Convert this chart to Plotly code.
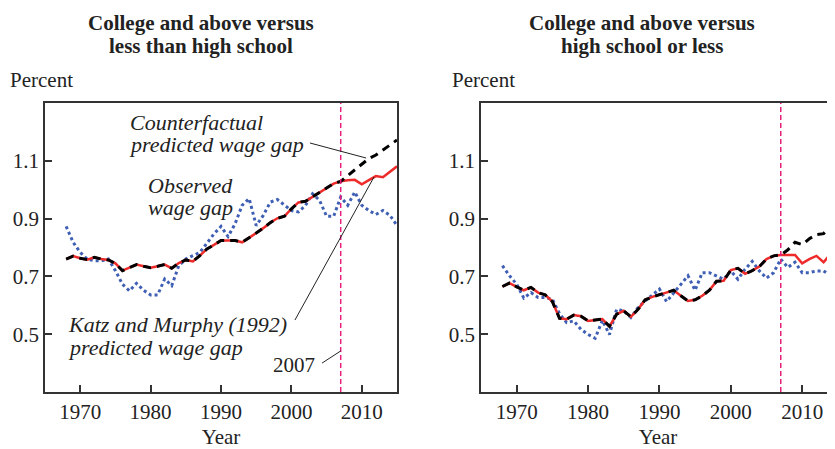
import plotly.graph_objects as go

years = list(range(1968, 2016))
cutoff_year = 2007

# left panel: college and above vs less than high school
left_observed = [0.873, 0.818, 0.783, 0.760, 0.754, 0.754, 0.760, 0.720, 0.673, 0.650,
                 0.676, 0.652, 0.636, 0.636, 0.691, 0.668, 0.737, 0.760, 0.772, 0.783,
                 0.815, 0.847, 0.873, 0.838, 0.882, 0.946, 0.969, 0.876, 0.911, 0.957,
                 0.966, 0.946, 0.928, 0.923, 0.946, 0.986, 0.963, 0.908, 0.908, 0.975,
                 0.946, 0.992, 0.946, 0.928, 0.914, 0.928, 0.911, 0.876]
left_km = [0.760, 0.770, 0.763, 0.758, 0.766, 0.760, 0.757, 0.745, 0.720, 0.731,
           0.741, 0.735, 0.730, 0.735, 0.741, 0.728, 0.746, 0.757, 0.752, 0.772,
           0.795, 0.809, 0.824, 0.824, 0.824, 0.818, 0.833, 0.850, 0.867, 0.886,
           0.901, 0.908, 0.934, 0.956, 0.960, 0.975, 0.990, 1.006, 1.021, 1.029,
           1.033, 1.034, 1.019, 1.033, 1.047, 1.043, 1.061, 1.081]
left_counter = left_km[:40] + [1.049, 1.070, 1.091, 1.108, 1.120, 1.137, 1.155, 1.172]

# right panel: college and above vs high school or less
right_observed = [0.737, 0.702, 0.673, 0.625, 0.644, 0.627, 0.627, 0.621, 0.571, 0.540,
                  0.546, 0.517, 0.499, 0.486, 0.548, 0.499, 0.586, 0.581, 0.558, 0.592,
                  0.615, 0.636, 0.656, 0.613, 0.644, 0.673, 0.702, 0.652, 0.713, 0.713,
                  0.702, 0.690, 0.719, 0.690, 0.725, 0.752, 0.719, 0.694, 0.713, 0.760,
                  0.731, 0.749, 0.713, 0.713, 0.719, 0.719, 0.702, 0.697]
right_km = [0.665, 0.677, 0.664, 0.652, 0.662, 0.644, 0.636, 0.613, 0.555, 0.552,
            0.566, 0.562, 0.546, 0.550, 0.552, 0.527, 0.569, 0.581, 0.560, 0.586,
            0.619, 0.629, 0.636, 0.644, 0.652, 0.633, 0.615, 0.619, 0.633, 0.652,
            0.683, 0.685, 0.722, 0.728, 0.709, 0.720, 0.734, 0.760, 0.771, 0.774,
            0.775, 0.774, 0.745, 0.760, 0.771, 0.749, 0.778, 0.807]
right_counter = right_km[:40] + [0.792, 0.818, 0.810, 0.830, 0.845, 0.848, 0.875, 0.890]

titles = [["College and above versus", "less than high school"],
          ["College and above versus", "high school or less"]]
y_ticks = [0.5, 0.7, 0.9, 1.1]
x_ticks = [1970, 1980, 1990, 2000, 2010]

SERIF = "Liberation Serif"
RED = "#ee2b2b"
BLUE = "#3f5fb5"
PINK = "#e8207e"
AXC = "#333333"

fig = go.Figure()

panels = [("x", "y", left_observed, left_km, left_counter),
          ("x2", "y2", right_observed, right_km, right_counter)]
for xa, ya, obs, km, cf in panels:
    fig.add_trace(go.Scatter(x=years, y=obs, xaxis=xa, yaxis=ya, mode="lines",
                             line=dict(color=BLUE, width=3, dash="dot")))
    fig.add_trace(go.Scatter(x=years, y=km, xaxis=xa, yaxis=ya, mode="lines",
                             line=dict(color=RED, width=2.5)))
    fig.add_trace(go.Scatter(x=years, y=cf, xaxis=xa, yaxis=ya, mode="lines",
                             line=dict(color="black", width=3, dash="8px,6px")))
    fig.add_shape(type="line", xref=xa, yref=ya + " domain", x0=cutoff_year, x1=cutoff_year,
                  y0=0, y1=1, line=dict(color=PINK, width=1.5, dash="5px,3px"))

axis_common = dict(showline=True, linecolor=AXC, linewidth=1.5, ticks="inside",
                   ticklen=7, tickwidth=1.5, tickcolor=AXC, showgrid=False, zeroline=False,
                   tickfont=dict(family=SERIF, size=21, color="#222"))

# the page body adds an 8px offset, so the figure is 8px smaller than the window
fig.update_layout(
    width=827, height=441,
    margin=dict(l=37, r=0, t=95, b=57),
    paper_bgcolor="white", plot_bgcolor="white",
    showlegend=False,
    xaxis=dict(domain=[0, 0.4456], range=[1965, 2015], tickvals=x_ticks, mirror=True,
               title=dict(text="Year", font=dict(family=SERIF, size=21, color="#222"), standoff=6),
               anchor="y", **axis_common),
    yaxis=dict(domain=[0, 1], range=[0.3, 1.3], tickvals=y_ticks, mirror=True,
               anchor="x", **axis_common),
    xaxis2=dict(domain=[0.5519, 1], range=[1965, 2014.6], tickvals=x_ticks, mirror=True,
                title=dict(text="Year", font=dict(family=SERIF, size=21, color="#222"), standoff=6),
                anchor="y2", **axis_common),
    yaxis2=dict(domain=[0, 1], range=[0.3, 1.3], tickvals=y_ticks, mirror=False,
                anchor="x2", **axis_common),
)

# panel titles and "Percent" labels
for cx, lines in zip([0.1975, 0.7557], titles):
    for ty, line in zip([1.2768, 1.197], lines):
        fig.add_annotation(x=cx, y=ty, xref="paper", yref="paper", text="<b>" + line + "</b>",
                           showarrow=False, xanchor="center", yanchor="middle",
                           font=dict(family=SERIF, size=21, color="#222"))
for px in [-0.0468, 0.5127]:
    fig.add_annotation(x=px, y=1.0796, xref="paper", yref="paper", text="Percent",
                       showarrow=False, xanchor="left", yanchor="middle",
                       font=dict(family=SERIF, size=21, color="#222"))

# left panel labels
labels = [("Counterfactual", 1976.8, 1.234, "left"),
          ("predicted wage gap", 1976.65, 1.155, "left"),
          ("Observed", 1979.35, 1.016, "left"),
          ("wage gap", 1979.35, 0.937, "left"),
          ("Katz and Murphy (1992)", 1968.0, 0.532, "left"),
          ("predicted wage gap", 1968.0, 0.453, "left")]
for txt, lx, ly, anc in labels:
    fig.add_annotation(x=lx, y=ly, xref="x", yref="y", text="<i>" + txt + "</i>",
                       showarrow=False, xanchor=anc, yanchor="middle",
                       font=dict(family=SERIF, size=22, color="#222"))
fig.add_annotation(x=2003.6, y=0.394, xref="x", yref="y", text="2007", showarrow=False,
                   xanchor="right", yanchor="middle", font=dict(family=SERIF, size=21, color="#222"))

# leader lines
leaders = [(2002.64, 1.1616, 2010.6, 1.1097),
           (2000.5, 0.549, 2011.73, 1.044),
           (2004.35, 0.40, cutoff_year, 0.442)]
for x0, y0, x1, y1 in leaders:
    fig.add_shape(type="line", xref="x", yref="y", x0=x0, y0=y0, x1=x1, y1=y1,
                  line=dict(color="#222", width=1))

fig.write_html("out.html")
